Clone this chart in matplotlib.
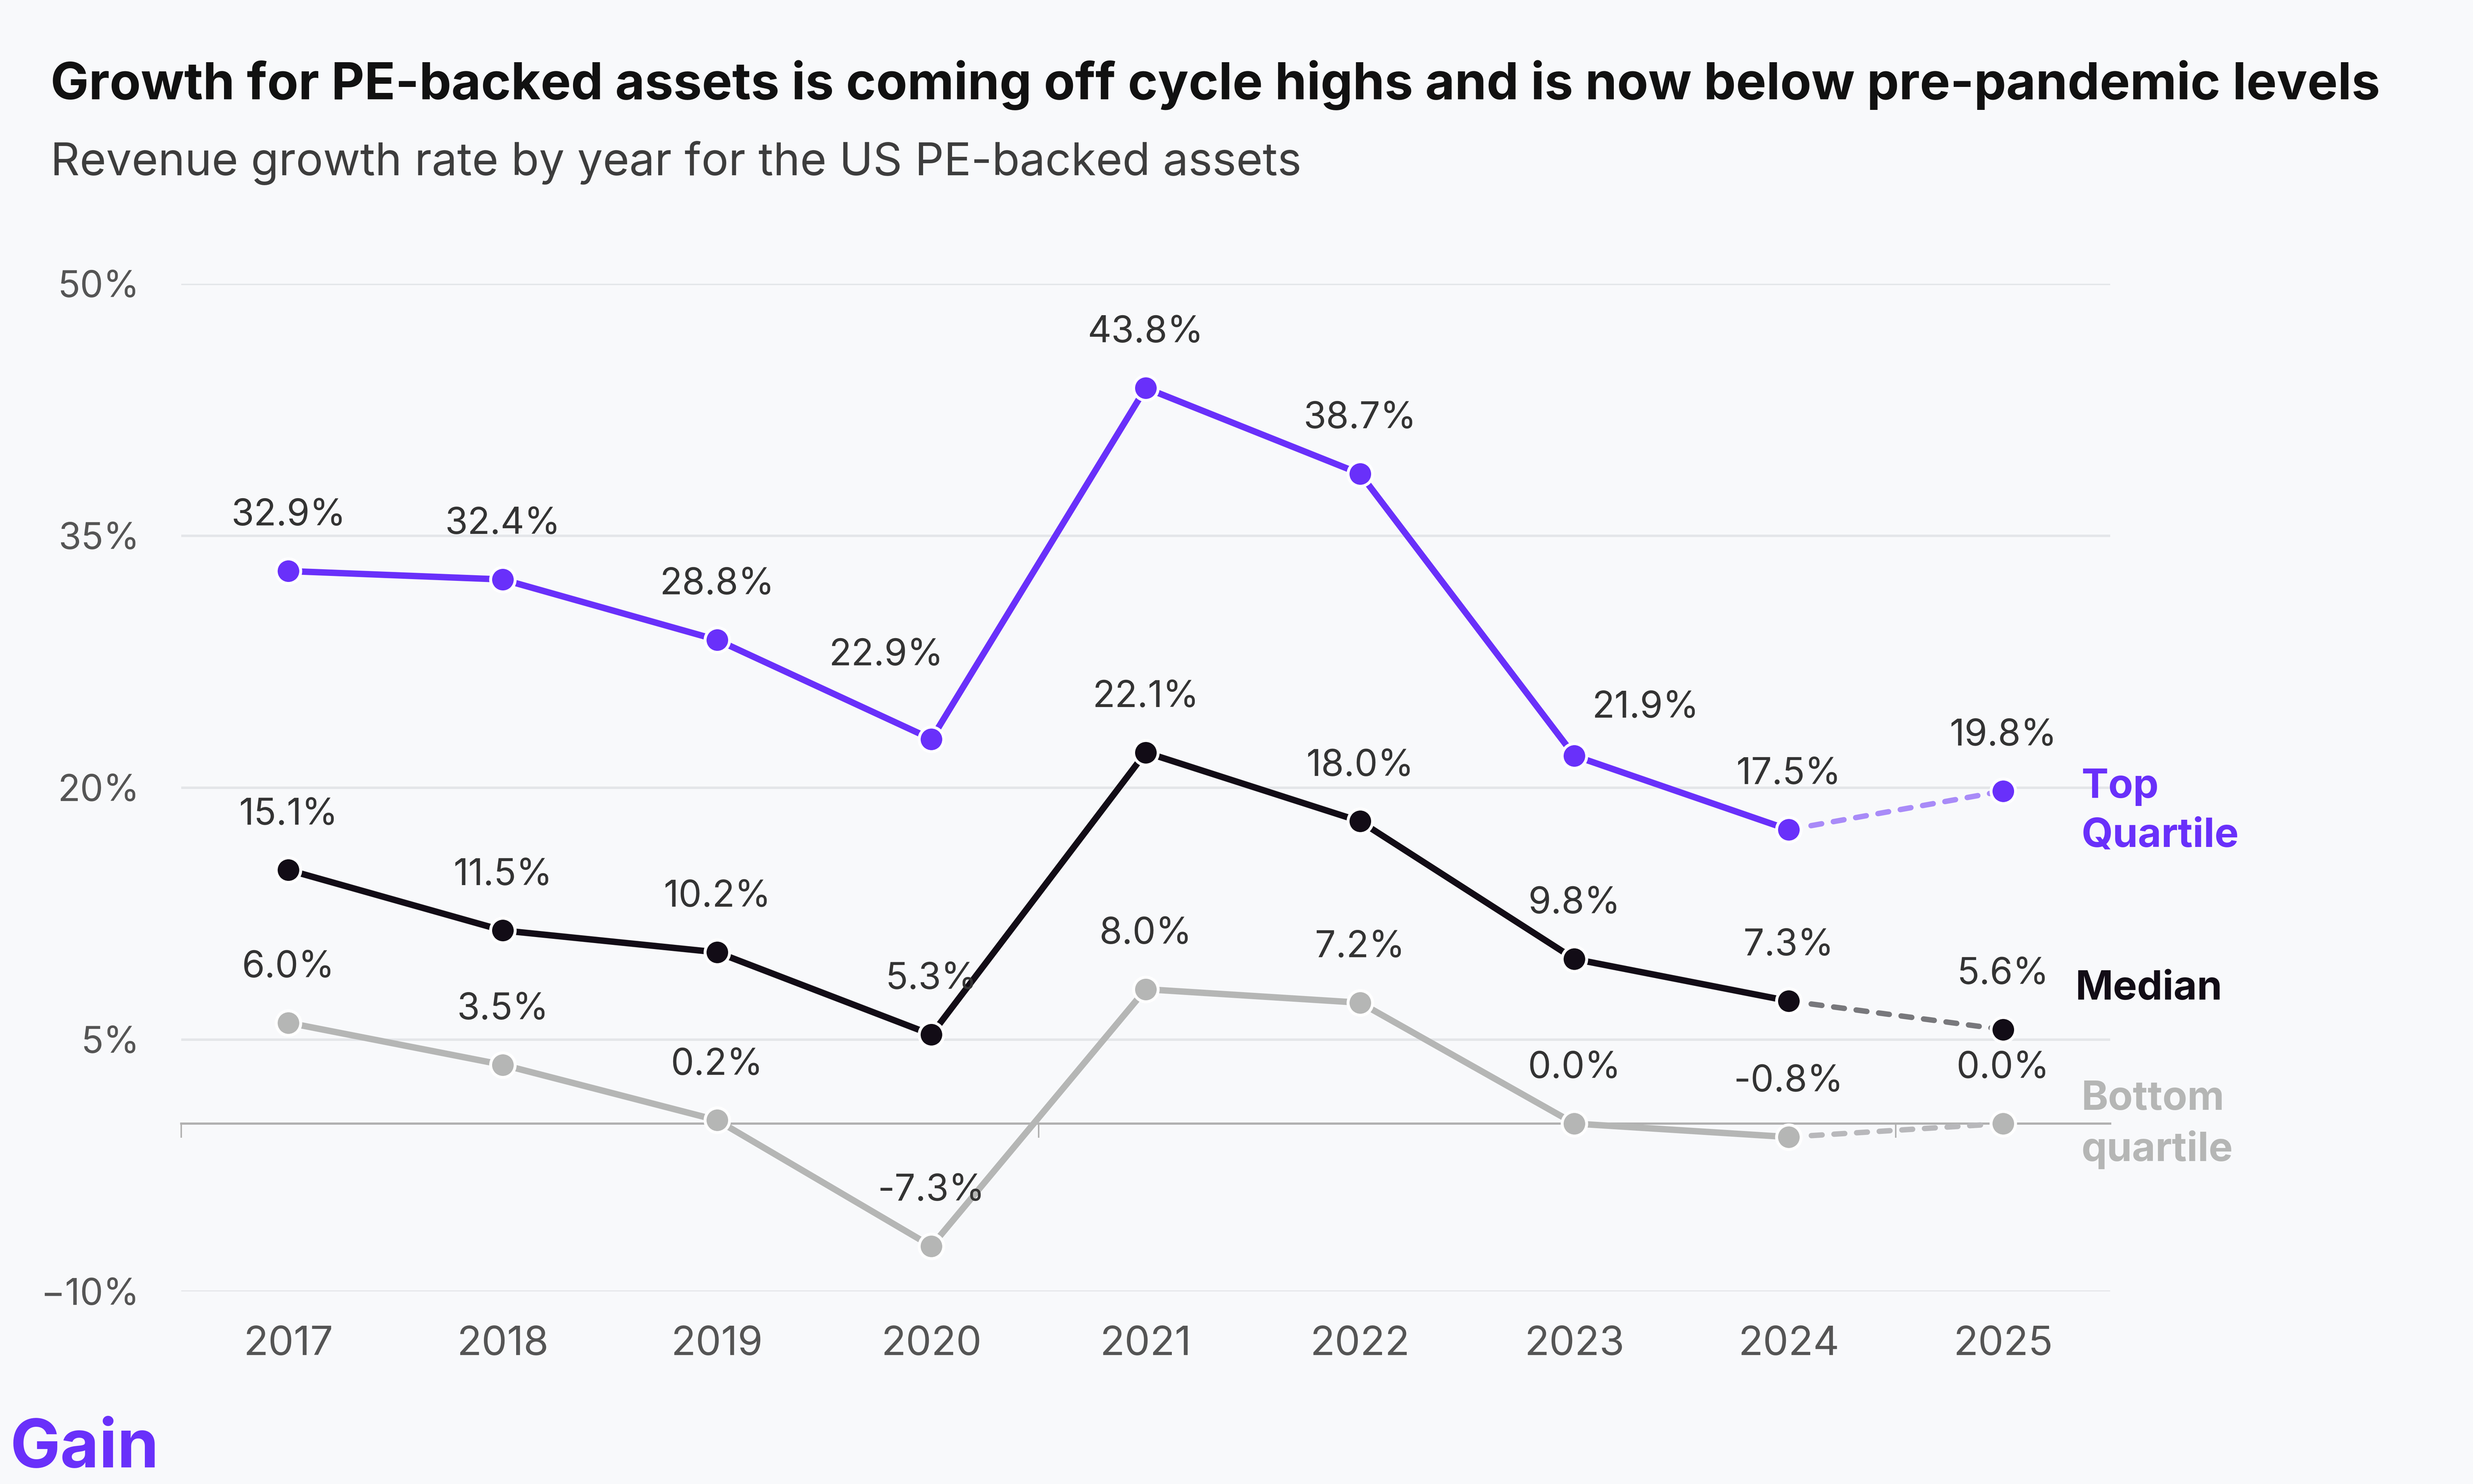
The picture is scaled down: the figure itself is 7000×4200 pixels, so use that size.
import numpy as np
import matplotlib.pyplot as plt

# chart data (revenue growth, %)
years = ['2017', '2018', '2019', '2020', '2021', '2022', '2023', '2024', '2025']
top_quartile = [32.9, 32.4, 28.8, 22.9, 43.8, 38.7, 21.9, 17.5, 19.8]
median = [15.1, 11.5, 10.2, 5.3, 22.1, 18.0, 9.8, 7.3, 5.6]
bottom_quartile = [6.0, 3.5, 0.2, -7.3, 8.0, 7.2, 0.0, -0.8, 0.0]
y_ticks = [-10, 5, 20, 35, 50]
series_names = ['Top\nQuartile', 'Median', 'Bottom\nquartile']

plt.rcParams['font.family'] = ['Inter', 'DejaVu Sans']

BG = '#f8f9fb'
PURPLE = '#6930fa'
BLACK = '#120c16'
GRAY = '#b5b6b5'

fig = plt.figure(figsize=(14, 8.4), dpi=500, facecolor=BG)
ax = fig.add_axes([0.0733, 0.1297, 0.780, 0.679])
ax.set_facecolor(BG)

x = np.arange(len(years))

# (values, colour, dashed colour, name label offset in points)
series = [
    (top_quartile, PURPLE, '#a98bf8', (32, -8.5)),
    (median, BLACK, '#78787c', (29.5, 16.5)),
    (bottom_quartile, GRAY, '#b8b8bb', (32, -0.5)),
]

# label offsets that differ from the default (series index, point index)
label_offsets = {(0, 3): (-18.5, 34), (0, 6): (29, 19.5)}

for k, (vals, col, dcol, name_off) in enumerate(series):
    ax.plot(x[:-1], vals[:-1], color=col, lw=2.6, solid_joinstyle='round', zorder=3)
    ax.plot(x[-2:], vals[-2:], color=dcol, lw=2.2, dashes=(2.0, 2.2),
            dash_capstyle='round', zorder=3)
    ax.plot(x, vals, 'o', ms=10, mfc=col, mec='white', mew=1.2, zorder=4, clip_on=False)
    for i, v in enumerate(vals):
        dx, dy = label_offsets.get((k, i), (0, 22.5))
        ax.annotate(f'{v:.1f}%', (x[i], v), xytext=(dx, dy), textcoords='offset points',
                    ha='center', va='center', fontsize=15, color='#333333', zorder=5)
    ax.annotate(series_names[k], (x[-1], vals[-1]), xytext=name_off, textcoords='offset points',
                ha='left', va='center', fontsize=16.5, fontweight='bold', color=col,
                linespacing=1.4, annotation_clip=False)

ax.set_xlim(-0.5, len(years) - 0.5)
ax.set_ylim(-10, 50)
ax.set_yticks(y_ticks)
ax.set_yticklabels([f'{t}%'.replace('-', '\u2212') for t in y_ticks])
ax.set_xticks(x)
ax.set_xticklabels(years)
ax.tick_params(axis='y', length=0, pad=17, labelsize=15, labelcolor='#555555')
ax.tick_params(axis='x', length=0, pad=14, labelsize=16.5, labelcolor='#555555')
ax.grid(axis='y', color='#e4e6e9', lw=1.0)
ax.set_axisbelow(True)
for s in ax.spines.values():
    s.set_visible(False)

# zero line, with a small tick every four years
lo, hi = ax.get_ylim()
zero_ax = ax.secondary_xaxis((0 - lo) / (hi - lo))
zero_ax.set_xticks(np.arange(-0.5, len(years) - 0.5, 4))
zero_ax.set_xticklabels([])
zero_ax.tick_params(length=5.8, width=0.6, color='#b0b0b0')
zero_ax.spines['bottom'].set_color('#b0b0b0')
zero_ax.spines['bottom'].set_linewidth(0.9)

fig.text(0.0204, 0.933, 'Growth for PE-backed assets is coming off cycle highs and is now below pre-pandemic levels',
         fontsize=20.8, fontweight='bold', color='#111111', va='baseline')
fig.text(0.0204, 0.882, 'Revenue growth rate by year for the US PE-backed assets',
         fontsize=18.5, color='#3d3d3d', va='baseline')
fig.text(0.004, 0.002, 'Gain', fontsize=27.3, fontweight='bold', color=PURPLE, va='bottom')

fig.savefig('out.png', dpi=500, facecolor=BG)
